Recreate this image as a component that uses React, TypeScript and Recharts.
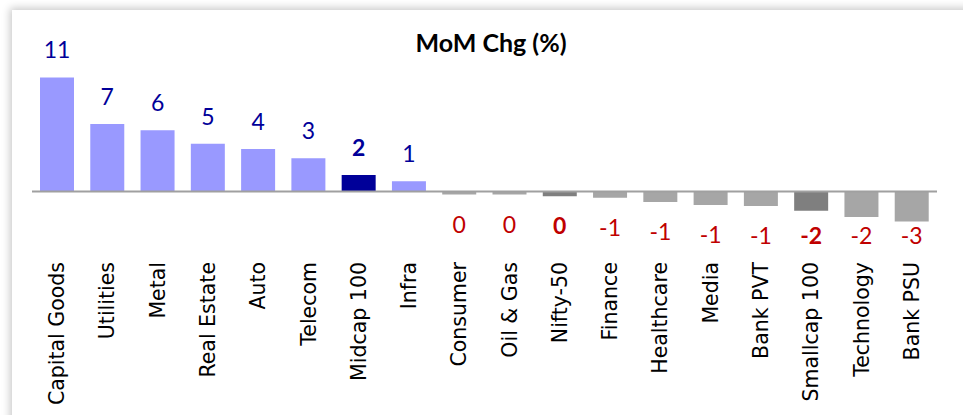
import React from "react";
import { BarChart, Bar, XAxis, YAxis, Cell, LabelList, ReferenceLine } from "recharts";

const categories = [
  "Capital Goods", "Utilities", "Metal", "Real Estate", "Auto", "Telecom", "Midcap 100", "Infra",
  "Consumer", "Oil & Gas", "Nifty-50", "Finance", "Healthcare", "Media", "Bank PVT", "Smallcap 100",
  "Technology", "Bank PSU",
];
const momChg = [11.0, 6.5, 5.9, 4.6, 4.1, 3.2, 1.6, 1.0, -0.3, -0.3, -0.45, -0.6, -1.0, -1.3, -1.4, -1.85, -2.45, -2.9];
const highlighted = ["Midcap 100", "Nifty-50", "Smallcap 100"];
const title = "MoM Chg (%)";

const data = categories.map((name, i) => ({ name, value: momChg[i] }));

const W = 963;
const H = 415;
const TICK_TOP = 262;

const colorFor = (name: string, v: number) => {
  const hi = highlighted.includes(name);
  if (v >= 0) return hi ? "#000099" : "#9999ff";
  return hi ? "#7f7f7f" : "#a6a6a6";
};

const ValueLabel = (props: any) => {
  const { x, y, width, height, index } = props;
  const d = data[index];
  const v = d.value;
  const bold = highlighted.includes(d.name);
  const cx = x + width / 2;
  const top = Math.min(y, y + height);
  const bottom = Math.max(y, y + height);
  const by = v >= 0 ? top - 19 : Math.min(bottom + 38, 244);
  return (
    <text
      x={cx}
      y={by}
      textAnchor="middle"
      fill={v >= 0 ? "#000099" : "#c00000"}
      style={{ fontFamily: "Lato, 'Open Sans', sans-serif", fontSize: 23, fontWeight: bold ? 700 : 400 }}
    >
      {String(Math.round(v))}
    </text>
  );
};

const CatTick = (props: any) => {
  const { x, payload } = props;
  return (
    <text
      transform={`translate(${x},${TICK_TOP}) rotate(-90)`}
      textAnchor="end"
      dominantBaseline="central"
      fill="#000"
      style={{ fontFamily: "'DejaVu Sans', Verdana, sans-serif", fontSize: 20.5 }}
    >
      {payload.value}
    </text>
  );
};

export default function App() {
  return (
    <div style={{ position: "absolute", left: 0, top: 0, width: W, height: H, overflow: "hidden", background: "#fff" }}>
      <div
        style={{
          position: "absolute",
          left: 12,
          top: 10,
          width: W + 40,
          height: H + 40,
          background: "#fff",
          boxShadow: "-2px -2px 8px rgba(0,0,0,0.22)",
        }}
      />
      <div style={{ position: "absolute", left: 0, top: 0 }}>
        <BarChart width={W} height={H} data={data} margin={{ top: 67, right: 26, bottom: 0, left: 32 }} barSize={34}>
          <text
            x={491}
            y={52}
            textAnchor="middle"
            fill="#000"
            style={{ fontFamily: "Lato, 'Open Sans', sans-serif", fontWeight: 700, fontSize: 25 }}
          >
            {title}
          </text>
          <XAxis
            dataKey="name"
            axisLine={false}
            tickLine={false}
            interval={0}
            height={182}
            tick={<CatTick />}
          />
          <YAxis hide domain={[-4, 12]} />
          <Bar dataKey="value" isAnimationActive={false}>
            {data.map((d) => (
              <Cell key={d.name} fill={colorFor(d.name, d.value)} />
            ))}
            <LabelList dataKey="value" content={<ValueLabel />} />
          </Bar>
          <ReferenceLine y={0} stroke="#a0a0a0" strokeWidth={2} ifOverflow="extendDomain" />
        </BarChart>
      </div>
    </div>
  );
}
